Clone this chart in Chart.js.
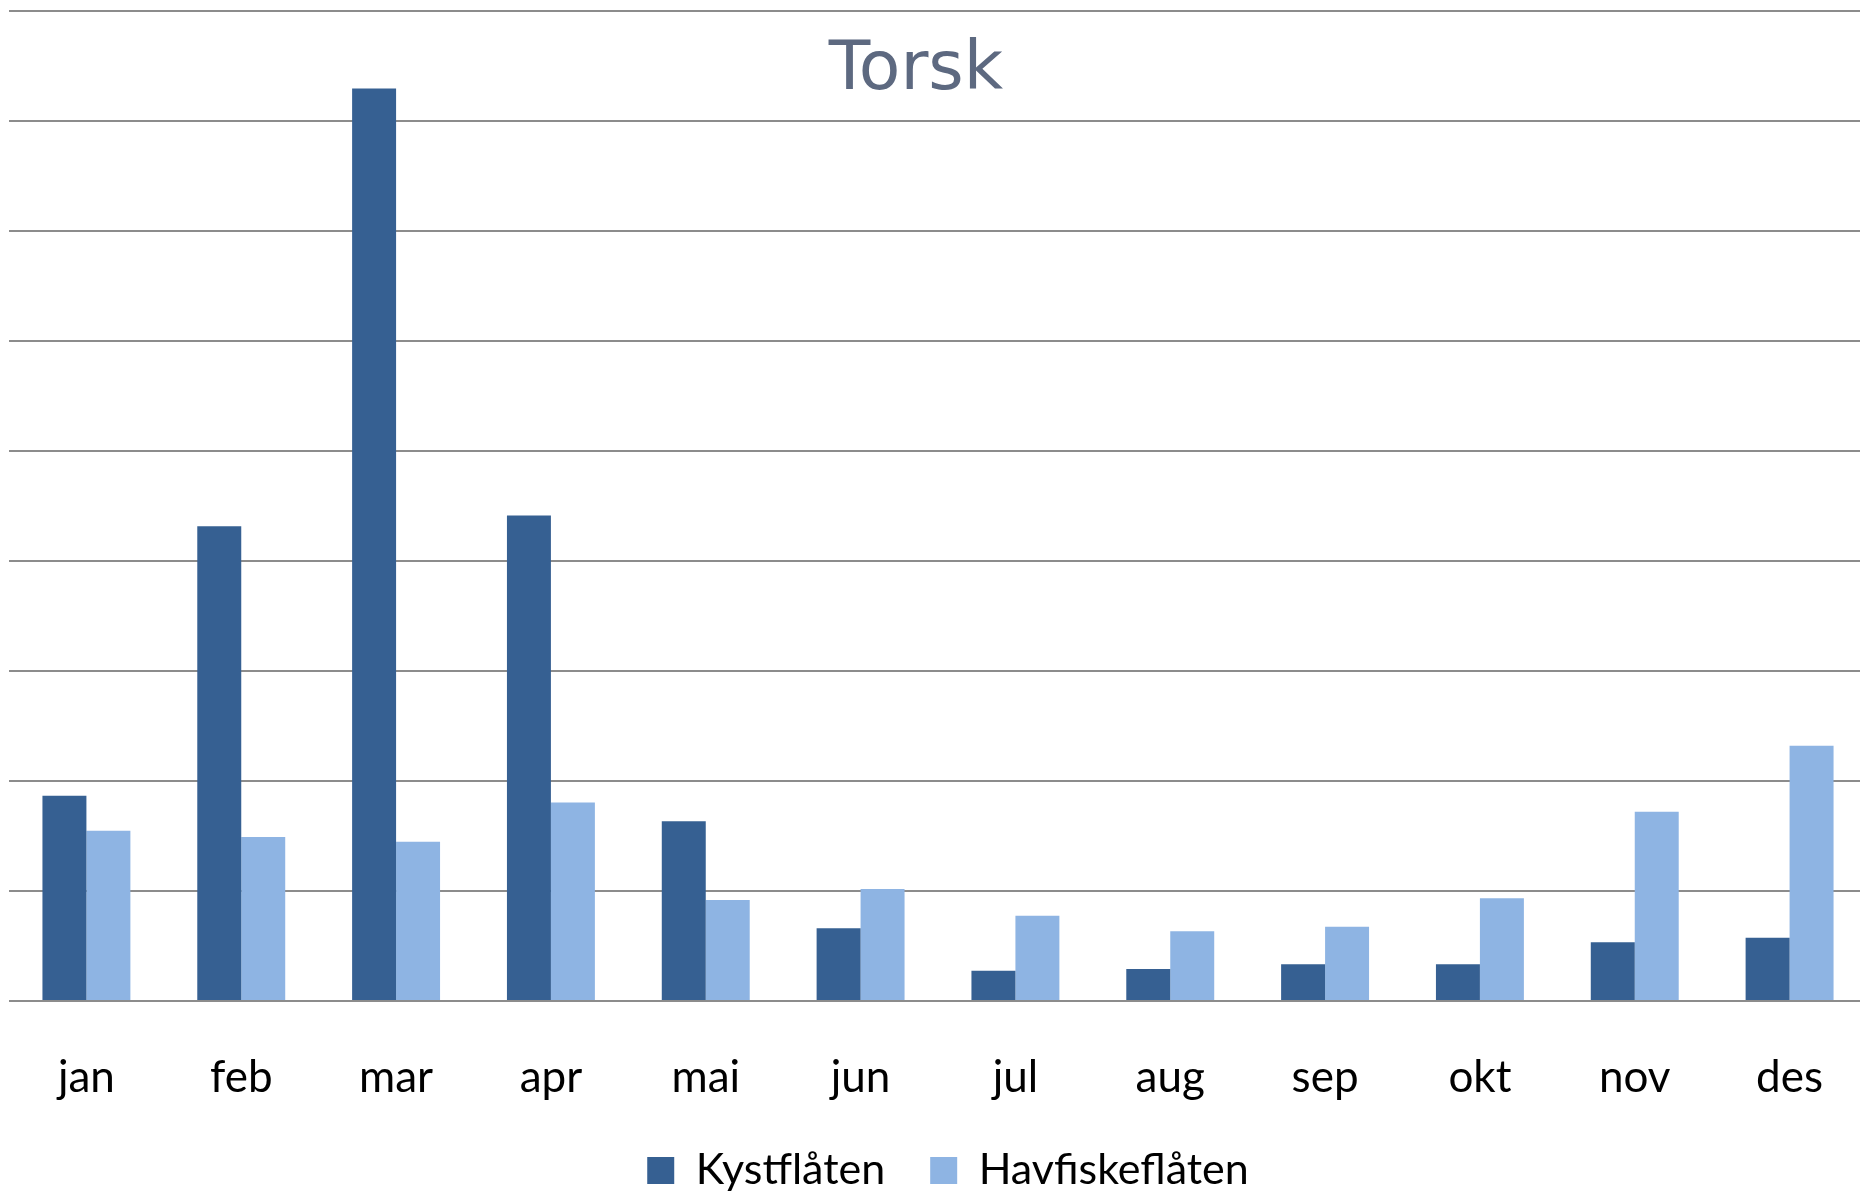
<!DOCTYPE html>
<html>
<head>
<meta charset="utf-8">
<script src="https://cdn.jsdelivr.net/npm/chart.js@4"></script>
<style>
  html, body { margin: 0; padding: 0; background: #fff; overflow: hidden; }
  #torsk-chart { display: block; }
</style>
</head>
<body>
<canvas id="torsk-chart" width="1876" height="1202"></canvas>
<script>
const months = ['jan', 'feb', 'mar', 'apr', 'mai', 'jun', 'jul', 'aug', 'sep', 'okt', 'nov', 'des'];
// no y labels in the picture, so values are in gridline units
const kystflaten = [1.865, 4.316, 8.296, 4.414, 1.635, 0.661, 0.276, 0.291, 0.334, 0.334, 0.534, 0.576];
const havfiskeflaten = [1.547, 1.492, 1.447, 1.804, 0.919, 1.019, 0.776, 0.634, 0.676, 0.934, 1.72, 2.32];

const titleFontSize = 68;
const titleTop = 20;

// title and legend are not centred on the plot in the original
const nudgeBoxes = {
  id: 'nudgeBoxes',
  afterLayout(chart) {
    chart.titleBlock.left -= 22;
    chart.titleBlock.right -= 22;
    chart.legend.left += 10;
    chart.legend.right += 10;
  }
};

new Chart(document.querySelector('#torsk-chart').getContext('2d'), {
  type: 'bar',
  data: {
    labels: months,
    datasets: [
      { label: 'Kystflåten', data: kystflaten, backgroundColor: '#366092' },
      { label: 'Havfiskeflåten', data: havfiskeflaten, backgroundColor: '#8eb4e3' }
    ]
  },
  options: {
    responsive: false,
    animation: false,
    layout: { padding: { left: 9, right: 9, top: 11, bottom: 0 } },
    datasets: { bar: { categoryPercentage: 0.568, barPercentage: 1 } },
    scales: {
      x: {
        grid: { display: false, drawTicks: false },
        border: { display: false },
        ticks: { color: '#000', padding: 50, maxRotation: 0, font: { family: 'Lato', size: 44 } },
        afterFit(scale) { scale.height = 103; }
      },
      y: {
        min: 0,
        max: 9,
        grid: { color: '#8c8c8c', lineWidth: 2, drawTicks: false },
        border: { display: false },
        ticks: { display: false, stepSize: 1 }
      }
    },
    plugins: {
      title: {
        display: true,
        text: 'Torsk',
        color: '#5d6980',
        font: { family: 'DejaVu Sans', size: titleFontSize, weight: 'normal', lineHeight: 1.2 },
        // negative bottom padding keeps the title from taking room above the plot
        padding: { top: titleTop, bottom: -(titleTop + titleFontSize * 1.2) }
      },
      legend: {
        position: 'bottom',
        labels: {
          color: '#000',
          boxWidth: 27,
          boxHeight: 27,
          padding: 45,
          font: { family: 'Lato', size: 43 }
        }
      },
      tooltip: { enabled: false }
    }
  },
  plugins: [nudgeBoxes]
});
</script>
</body>
</html>
